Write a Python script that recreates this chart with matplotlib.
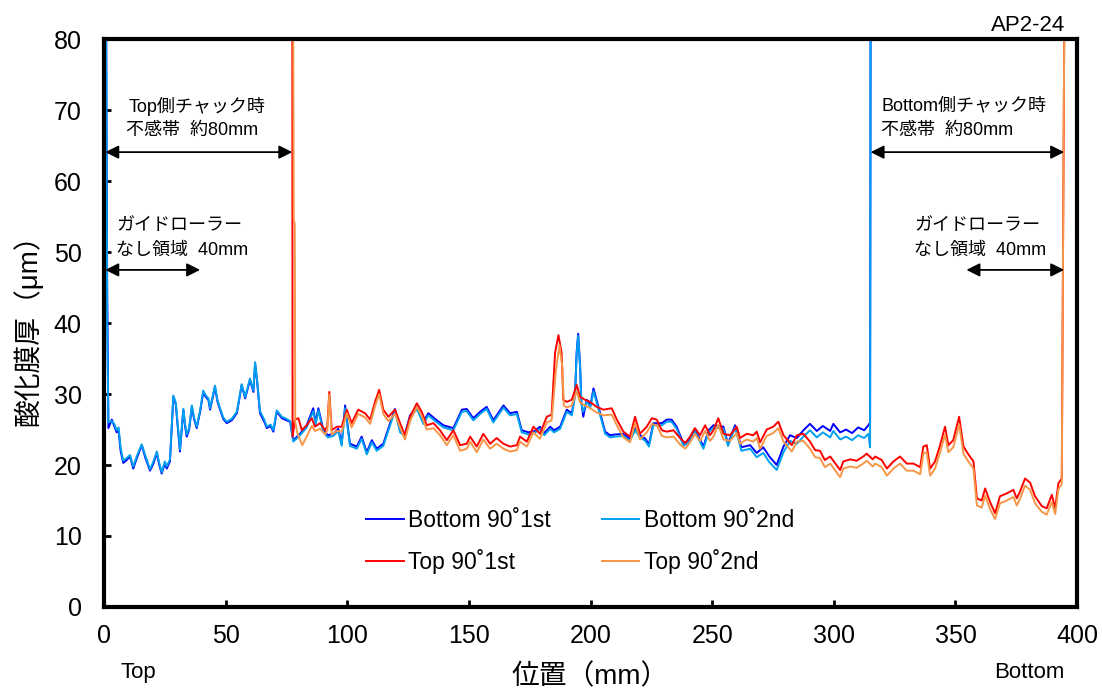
import matplotlib
matplotlib.use("Agg")
import matplotlib.pyplot as plt

plt.rcParams['font.family'] = ['Liberation Sans', 'Noto Sans CJK JP', 'DejaVu Sans']

# Bottom 90°1st
b1_x = [0.9, 1.3, 1.8, 3.2, 4.2, 5.2, 6.0, 6.8, 7.9, 9.0, 10.7, 12.0, 13.5, 15.5, 17.0, 18.9,
        20.3, 21.7, 22.7, 23.7, 25.0, 25.8, 27.1, 28.5, 29.5, 31.2, 32.6, 33.3, 34.0, 35.0, 36.1,
        37.0, 38.1, 39.5, 40.8, 41.8, 42.9, 43.6, 45.6, 46.6, 47.7, 49.0, 50.4, 52.5, 54.6, 56.6,
        58.0, 60.0, 61.4, 62.1, 63.0, 64.1, 66.0, 66.9, 68.5, 69.6, 71.0, 73.1, 75.0, 76.5, 77.8,
        80.6, 83.3, 86.0, 87.0, 88.1, 90.2, 92.0, 94.3, 96.3, 97.7, 99.1, 101.1, 103.9, 105.9,
        108.0, 110.1, 112.1, 114.8, 117.6, 119.6, 121.7, 123.7, 125.8, 128.6, 131.3, 133.3,
        136.8, 139.5, 143.6, 147.1, 149.1, 151.8, 154.6, 157.3, 160.0, 164.2, 166.9, 169.7,
        171.7, 174.5, 177.0, 179.2, 181.0, 183.4, 185.0, 187.5, 190.2, 192.3, 193.6, 194.3,
        194.9, 195.7, 196.2, 197.0, 198.4, 200.0, 201.2, 203.0, 206.0, 208.0, 210.0, 213.5,
        216.2, 218.3, 220.3, 222.5, 224.0, 225.8, 229.3, 231.3, 233.3, 235.4, 238.2, 240.5,
        242.9, 246.4, 248.5, 250.5, 254.6, 256.5, 259.4, 262.0, 265.6, 268.3, 271.0, 273.5,
        276.5, 279.3, 282.0, 284.8, 287.5, 290.2, 293.0, 295.5, 298.5, 299.8, 302.6, 305.0,
        307.5, 310.0, 312.5, 314.2, 314.9, 315.1]
b1_y = [80, 45, 25.2, 26.4, 25.5, 24.6, 24.9, 22.0, 20.3, 20.6, 21.2, 19.5, 21.0, 22.8, 21.0, 19.2,
        20.2, 21.7, 20.0, 18.8, 20.2, 19.5, 20.5, 29.6, 28.5, 21.9, 27.8, 25.5, 24.0, 25.0, 28.2,
        26.5, 25.2, 27.5, 30.3, 29.6, 29.2, 27.8, 31.0, 29.0, 27.8, 26.5, 25.9, 26.3, 27.3, 31.3,
        29.4, 32.0, 30.3, 34.3, 31.5, 27.3, 26.0, 25.2, 25.5, 24.7, 27.5, 26.6, 26.3, 26.1, 23.5,
        24.4, 25.6, 28.0, 26.0, 28.0, 24.9, 24.2, 24.4, 25.1, 23.0, 28.4, 23.0, 22.6, 24.0,
        21.8, 23.5, 22.3, 23.0, 25.9, 27.9, 24.9, 24.4, 27.0, 28.2, 26.1, 27.3,
        26.3, 25.6, 25.2, 27.8, 27.9, 26.6, 27.5, 28.2, 26.3, 28.4, 27.3, 27.5,
        24.9, 24.6, 24.8, 25.4, 24.5, 25.4, 24.9, 25.4, 27.8, 27.3, 30.0, 36.0,
        38.5, 34.0, 29.0, 26.8, 29.2, 28.5, 30.8, 28.5, 24.7, 24.2, 24.3, 24.4,
        23.7, 25.2, 24.2, 23.7, 22.9, 25.9, 25.9, 26.4, 26.4, 25.4, 23.0, 23.5,
        25.0, 22.6, 24.9, 25.6, 25.4, 23.0, 25.6, 22.5, 22.8, 21.7, 22.5, 21.2,
        20.0, 22.6, 24.2, 23.8, 24.9, 25.8, 24.8, 25.5, 24.8, 25.8, 24.6, 25.0,
        24.5, 25.3, 24.9, 25.6, 26.0, 80]

# Bottom 90°2nd
b2_x = b1_x
b2_y = [80, 40, 26.0, 26.2, 25.8, 24.9, 25.3, 22.5, 20.6, 20.9, 21.4, 19.8, 21.3, 22.9, 21.3, 19.4,
        20.5, 21.9, 20.3, 19.0, 20.5, 19.8, 20.8, 29.8, 28.8, 22.2, 27.9, 25.8, 24.3, 25.2, 28.4,
        26.7, 25.4, 27.7, 30.5, 29.8, 29.4, 28.0, 31.2, 29.2, 28.0, 26.7, 26.1, 26.5, 27.5, 31.4,
        29.6, 32.2, 30.5, 34.5, 31.7, 27.6, 26.3, 25.4, 25.7, 24.9, 27.7, 26.8, 26.5, 26.2, 23.3,
        24.2, 25.3, 27.6, 25.7, 27.7, 24.6, 23.9, 24.1, 24.8, 22.7, 28.0, 22.7, 22.3, 23.7,
        21.5, 23.2, 22.0, 22.7, 25.6, 27.6, 24.6, 24.1, 26.7, 27.9, 25.8, 27.0,
        26.0, 25.3, 24.9, 27.5, 27.6, 26.3, 27.2, 27.9, 26.0, 28.1, 27.0, 27.2,
        24.6, 24.3, 24.5, 25.1, 24.2, 25.1, 24.6, 25.1, 27.5, 27.0, 29.7, 35.7,
        38.2, 33.7, 28.7, 27.5, 28.9, 28.2, 30.4, 28.2, 24.4, 23.9, 24.0, 24.1,
        23.4, 24.9, 23.9, 23.4, 22.6, 25.6, 25.6, 26.1, 26.1, 25.1, 22.7, 23.2,
        24.7, 22.3, 24.6, 25.3, 25.1, 22.7, 25.3, 22.0, 22.3, 21.1, 21.7, 20.4,
        19.3, 21.8, 23.4, 23.0, 24.0, 24.9, 23.9, 24.6, 23.9, 24.8, 23.6, 24.0,
        23.5, 24.2, 23.8, 24.4, 22.5, 80]

# Top 90°1st
t1_x = [77.4, 77.5, 78.5, 79.9, 81.3, 83.3, 85.4, 86.7, 88.8, 90.9, 91.8, 92.6, 93.6, 95.7, 97.7,
        99.8, 101.8, 104.5, 107.3, 109.4, 111.4, 113.1, 114.8, 116.9, 119.6, 121.7, 123.7, 125.8,
        128.6, 130.6, 132.7, 135.4, 138.1, 140.9, 143.6, 146.4, 149.1, 150.5, 153.2, 155.9,
        158.7, 161.4, 164.2, 166.9, 169.7, 171.0, 173.8, 176.5, 179.2, 182.0, 184.0, 185.4,
        186.8, 188.1, 188.8, 190.2, 192.3, 194.3, 195.7, 197.7, 199.8, 202.5, 205.3, 208.7,
        210.8, 213.5, 216.2, 218.3, 220.3, 223.1, 225.2, 227.2, 229.3, 231.3, 234.1, 236.8,
        238.9, 240.9, 242.9, 245.0, 247.1, 249.1, 250.5, 252.5, 254.6, 257.3, 260.1, 261.4,
        264.2, 266.9, 268.3, 269.7, 272.4, 275.1, 277.2, 279.3, 282.7, 284.8, 287.5, 290.2,
        292.3, 294.3, 296.3, 298.5, 299.8, 302.6, 303.9, 306.7, 309.4, 312.1, 313.5, 316.0,
        317.0, 319.7, 321.8, 324.5, 327.2, 330.0, 332.7, 335.5, 336.8, 338.2, 339.6, 341.6,
        343.7, 345.7, 347.1, 349.1, 351.5, 353.3, 355.3, 357.4, 358.8, 360.8, 362.2, 364.2,
        366.3, 368.3, 371.1, 373.8, 375.2, 376.6, 378.6, 380.7, 382.7, 385.5, 387.5, 389.6,
        391.0, 392.3, 393.7, 394.7]
t1_y = [80, 24.0, 26.4, 26.6, 24.9, 25.6, 26.6, 25.4, 25.9, 24.9, 25.5, 30.3, 24.9, 25.4, 25.4,
        27.8, 25.9, 27.8, 27.3, 26.4, 28.9, 30.6, 27.8, 26.8, 27.8, 25.9, 24.2, 26.8,
        28.7, 27.5, 25.6, 25.9, 24.9, 23.5, 24.9, 22.8, 23.0, 24.0, 22.6, 24.4,
        23.0, 23.8, 23.0, 22.6, 22.8, 24.0, 23.3, 25.4, 24.4, 26.8, 27.1, 35.8,
        38.3, 35.8, 29.2, 28.9, 29.2, 31.3, 29.6, 29.2, 28.9, 28.2, 27.8, 28.0,
        26.4, 24.7, 24.0, 26.8, 24.4, 25.4, 26.6, 26.4, 24.9, 24.7, 24.9, 23.8,
        23.1, 24.0, 25.2, 24.2, 25.6, 24.2, 24.9, 26.6, 24.4, 24.2, 25.4, 23.8,
        24.4, 24.2, 24.7, 23.2, 25.0, 25.4, 26.1, 24.2, 22.8, 24.2, 24.4, 23.3,
        22.1, 22.0, 20.7, 21.2, 20.6, 19.3, 20.5, 20.8, 20.6, 21.2, 21.6, 20.8,
        21.2, 20.7, 19.5, 20.5, 21.2, 20.2, 20.2, 19.7, 22.6, 22.8, 19.5, 20.5,
        22.8, 25.4, 22.8, 23.5, 26.8, 22.6, 21.5, 20.5, 15.3, 15.0, 16.7, 14.8,
        13.2, 15.6, 16.0, 16.5, 15.3, 16.3, 18.1, 17.5, 15.6, 14.2, 13.9, 15.8,
        13.9, 17.4, 18.1, 80]

# Top 90°2nd
t2_x = [77.8, 78.0, 78.4, 78.6, 79.5, 80.6, 81.5, 83.3, 85.4, 86.7, 88.8, 90.9, 91.8, 92.6, 93.6,
        95.7, 97.7, 99.8, 101.8, 104.5, 107.3, 109.4, 111.4, 113.1, 114.8, 116.9, 119.6, 121.7,
        123.7, 125.8, 128.6, 130.6, 132.7, 135.4, 138.1, 140.9, 143.6, 146.4, 149.1, 150.5,
        153.2, 155.9, 158.7, 161.4, 164.2, 166.9, 169.7, 171.0, 173.8, 176.5, 179.2, 182.0,
        184.0, 185.8, 187.2, 188.4, 189.0, 190.2, 192.3, 194.3, 195.7, 197.7, 199.8, 202.5,
        205.3, 208.7, 210.8, 213.5, 216.2, 218.3, 220.3, 223.1, 225.2, 227.2, 229.3, 231.3,
        234.1, 236.8, 238.9, 240.9, 242.9, 245.0, 247.1, 249.1, 250.5, 252.5, 254.6, 257.3,
        260.1, 261.4, 264.2, 266.9, 268.3, 269.7, 272.4, 275.1, 277.2, 279.3, 282.7, 284.8,
        287.5, 290.2, 292.3, 294.3, 296.3, 298.5, 299.8, 302.6, 303.9, 306.7, 309.4, 312.1,
        313.5, 316.0, 317.0, 319.7, 321.8, 324.5, 327.2, 330.0, 332.7, 335.5, 336.8, 338.2,
        339.6, 341.6, 343.7, 345.7, 347.1, 349.1, 351.5, 353.3, 355.3, 357.4, 358.8, 360.8,
        362.2, 364.2, 366.3, 368.3, 371.1, 373.8, 375.2, 376.6, 378.6, 380.7, 382.7, 385.5,
        387.5, 389.6, 391.0, 392.3, 393.7, 394.7]
t2_y = [80, 54.5, 54.0, 26.0, 24.5, 23.5, 22.8, 24.0, 25.5, 24.8, 25.1, 24.3, 24.9, 29.9, 24.3,
        24.8, 24.7, 27.3, 25.3, 27.2, 26.7, 25.8, 28.3, 30.0, 27.2, 26.2, 27.2, 25.3,
        23.6, 26.2, 28.2, 26.9, 25.0, 25.2, 24.2, 22.8, 24.2, 22.0, 22.3, 23.3,
        21.8, 23.6, 22.3, 23.0, 22.3, 21.9, 22.1, 23.3, 22.6, 24.6, 23.7, 26.0,
        26.3, 33.5, 36.9, 33.8, 28.4, 28.1, 28.4, 30.4, 28.8, 28.4, 28.0, 27.4,
        27.0, 27.1, 25.6, 23.9, 23.2, 25.9, 23.6, 24.6, 25.8, 25.6, 24.1, 23.9,
        24.0, 22.9, 22.3, 23.2, 24.4, 23.4, 24.8, 23.4, 24.0, 25.7, 23.6, 23.4,
        24.5, 23.0, 23.6, 23.3, 23.8, 22.3, 24.1, 24.5, 25.2, 23.3, 21.9, 23.3,
        23.4, 22.3, 21.1, 21.0, 19.7, 20.2, 19.6, 18.3, 19.5, 19.8, 19.6, 20.2,
        20.6, 19.8, 20.2, 19.7, 18.5, 19.5, 20.2, 19.2, 19.2, 18.7, 21.6, 21.8,
        18.5, 19.5, 21.8, 24.3, 21.8, 22.5, 25.7, 21.6, 20.5, 19.5, 14.3, 14.0,
        15.7, 13.8, 12.4, 14.6, 15.0, 15.5, 14.3, 15.3, 17.1, 16.5, 14.6, 13.4,
        13.0, 14.8, 13.1, 16.6, 17.3, 80]

fig = plt.figure(figsize=(11.02, 6.96), dpi=100)
ax = fig.add_axes([0.0944, 0.128, 0.883, 0.8155])

l_b1, = ax.plot(b1_x, b1_y, color='#0000FF', lw=1.4, label='Bottom 90˚1st')
l_b2, = ax.plot(b2_x, b2_y, color='#00A0F0', lw=1.4, label='Bottom 90˚2nd')
l_t1, = ax.plot(t1_x, t1_y, color='#FF0000', lw=1.4, label='Top 90˚1st')
l_t2, = ax.plot(t2_x, t2_y, color='#F79646', lw=1.4, label='Top 90˚2nd')

ax.set_xlim(0, 400)
ax.set_ylim(0, 80)
ax.set_xticks(range(0, 401, 50))
ax.set_yticks(range(0, 81, 10))
ax.tick_params(direction='in', length=5, width=2, labelsize=18)
ax.tick_params(axis='y', pad=16)
ax.tick_params(axis='x', pad=12)
for s in ax.spines.values():
    s.set_linewidth(3)

ax.set_xlabel('位置（mm）', fontsize=20, labelpad=12)
ax.set_ylabel('酸化膜厚（μm）', fontsize=20, labelpad=8)

# 矢印と注記
arr = dict(arrowstyle='<|-|>', color='black', lw=1.3, mutation_scale=20, shrinkA=0, shrinkB=0)
ax.annotate('', xy=(77.4, 64.1), xytext=(0.5, 64.1), arrowprops=arr)
ax.annotate('', xy=(39.5, 47.5), xytext=(0.5, 47.5), arrowprops=arr)
ax.annotate('', xy=(394.7, 64.1), xytext=(315.1, 64.1), arrowprops=arr)
ax.annotate('', xy=(394.7, 47.5), xytext=(354.5, 47.5), arrowprops=arr)

ax.text(10.0, 70.6, 'Top側チャック時', fontsize=13, va='center')
ax.text(9.0, 67.2, '不感帯  約80mm', fontsize=13, va='center')
ax.text(5.0, 53.8, 'ガイドローラー', fontsize=13, va='center')
ax.text(5.0, 50.3, 'なし領域  40mm', fontsize=13, va='center')
ax.text(319.5, 70.6, 'Bottom側チャック時', fontsize=13, va='center')
ax.text(319.5, 67.2, '不感帯  約80mm', fontsize=13, va='center')
ax.text(333.0, 53.8, 'ガイドローラー', fontsize=13, va='center')
ax.text(333.0, 50.3, 'なし領域  40mm', fontsize=13, va='center')

# 行方向に並べる
ax.legend([l_b1, l_t1, l_b2, l_t2], [l_b1.get_label(), l_t1.get_label(), l_b2.get_label(), l_t2.get_label()],
          loc='lower left', bbox_to_anchor=(0.248, 0.022), ncol=2, frameon=False,
          fontsize=16.5, handlelength=1.65, handletextpad=0.2, columnspacing=2.2, labelspacing=0.75)

fig.text(0.967, 0.964, 'AP2-24', fontsize=16, ha='right', va='center')
fig.text(0.126, 0.034, 'Top', fontsize=16, ha='center', va='center')
fig.text(0.934, 0.034, 'Bottom', fontsize=16, ha='center', va='center')

fig.savefig('out.png', dpi=100)
